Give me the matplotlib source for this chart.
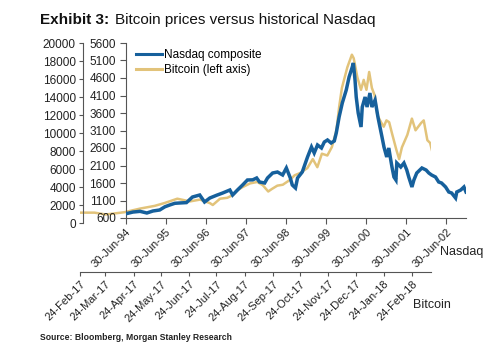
import matplotlib
matplotlib.use("Agg")
import matplotlib.pyplot as plt
import pandas as pd
from matplotlib.font_manager import findfont, FontProperties
from matplotlib.lines import Line2D

# ---------------- data ----------------
btc_dates = ["2017-02-24", "2017-02-27", "2017-03-12", "2017-03-24", "2017-03-29", "2017-04-14",
             "2017-05-01", "2017-05-17", "2017-05-28", "2017-06-11", "2017-06-25", "2017-07-06",
             "2017-07-17", "2017-07-20", "2017-07-28", "2017-08-05", "2017-08-11", "2017-08-17",
             "2017-08-22", "2017-08-30", "2017-09-07", "2017-09-13", "2017-09-19", "2017-09-23",
             "2017-09-29", "2017-10-05", "2017-10-13", "2017-10-18", "2017-10-24", "2017-11-01",
             "2017-11-07", "2017-11-12", "2017-11-17", "2017-11-23", "2017-11-28", "2017-12-03",
             "2017-12-06", "2017-12-09", "2017-12-15", "2017-12-20", "2017-12-22", "2017-12-26",
             "2017-12-30", "2018-01-02", "2018-01-05", "2018-01-08", "2018-01-11", "2018-01-14",
             "2018-01-17", "2018-01-21", "2018-01-24", "2018-01-27", "2018-01-30", "2018-02-02",
             "2018-02-07", "2018-02-10", "2018-02-13", "2018-02-19", "2018-02-24", "2018-02-28",
             "2018-03-06", "2018-03-09", "2018-03-13", "2018-03-16", "2018-03-18"]
btc_values = [1150, 1150, 1150, 950, 1000, 1200,
              1600, 1900, 2220, 2700, 2400, 2600,
              2200, 2000, 2700, 2800, 3100, 3700,
              4000, 4400, 4560, 4200, 3500, 3780,
              4150, 4250, 4800, 5300, 5550, 6100,
              7100, 6200, 7700, 7500, 8440, 10300,
              12900, 15000, 17300, 18700, 18300, 16200,
              14800, 15900, 14800, 16780, 15000, 14200,
              12000, 11200, 10700, 11400, 11200, 10000,
              8100, 7100, 8400, 9800, 11600, 10300,
              11100, 11400, 9200, 8900, 8100]

nas_dates = ["1994-06-30", "1994-09-04", "1994-11-08", "1995-01-09", "1995-03-05", "1995-05-06",
             "1995-06-22", "1995-08-05", "1995-09-21", "1995-11-04", "1996-01-05", "1996-02-29",
             "1996-05-05", "1996-06-18", "1996-08-05", "1996-10-06", "1996-11-30", "1997-02-04",
             "1997-03-01", "1997-04-14", "1997-05-31", "1997-07-14", "1997-08-31", "1997-10-06",
             "1997-11-01", "1997-12-18", "1998-01-13", "1998-03-01", "1998-04-14", "1998-05-31",
             "1998-07-04", "1998-08-09", "1998-08-27", "1998-09-25", "1998-10-14", "1998-11-26",
             "1999-01-13", "1999-02-18", "1999-03-15", "1999-04-14", "1999-05-20", "1999-06-15",
             "1999-07-14", "1999-08-16", "1999-09-14", "1999-10-02", "1999-10-28", "1999-11-26",
             "2000-01-01", "2000-01-27", "2000-02-25", "2000-03-06", "2000-03-21", "2000-04-01",
             "2000-04-19", "2000-05-15", "2000-05-26", "2000-06-21", "2000-07-09", "2000-08-04",
             "2000-08-22", "2000-09-20", "2000-10-16", "2000-10-27", "2000-11-22", "2000-12-10",
             "2001-01-04", "2001-01-23", "2001-02-10", "2001-02-21", "2001-03-11", "2001-03-29",
             "2001-04-06", "2001-05-12", "2001-06-10", "2001-07-06", "2001-07-24", "2001-08-22",
             "2001-09-09", "2001-10-05", "2001-11-21", "2001-12-29", "2002-01-23", "2002-02-17",
             "2002-03-25", "2002-04-23", "2002-05-19", "2002-06-25", "2002-07-24", "2002-08-19",
             "2002-09-24", "2002-10-05", "2002-11-10", "2002-12-09", "2002-12-28"]
nas_values = [720, 770, 790, 743, 800, 829,
              920, 971, 1020, 1029, 1040, 1200,
              1257, 1057, 1171, 1250, 1314, 1400,
              1257, 1400, 1543, 1686, 1690, 1743,
              1629, 1600, 1743, 1886, 1914, 1829,
              2029, 1743, 1543, 1457, 1743, 1914,
              2343, 2629, 2457, 2686, 2600, 2771,
              2829, 2743, 2800, 3029, 3486, 3886,
              4257, 4629, 4914, 5029, 4543, 4057,
              3600, 3200, 3771, 4057, 3771, 4171,
              3771, 3971, 3486, 3314, 2914, 2629,
              2343, 2600, 2257, 2057, 1771, 1686,
              2171, 2057, 2171, 1971, 1771, 1486,
              1686, 1886, 2029, 1971, 1886, 1829,
              1771, 1629, 1600, 1486, 1343, 1314,
              1171, 1343, 1400, 1486, 1343]

btc_yticks = list(range(0, 20001, 2000))
nas_yticks = list(range(600, 5601, 500))
nas_xticks = ["1994-06-30", "1995-06-30", "1996-06-30", "1997-06-30", "1998-06-30",
              "1999-06-30", "2000-06-30", "2001-06-30", "2002-06-30"]
btc_xticks = ["2017-02-24", "2017-03-24", "2017-04-24", "2017-05-24", "2017-06-24", "2017-07-24",
              "2017-08-24", "2017-09-24", "2017-10-24", "2017-11-24", "2017-12-24", "2018-01-24",
              "2018-02-24"]

title_bold = "Exhibit 3:"
title_rest = "Bitcoin prices versus historical Nasdaq"
source_text = "Source: Bloomberg, Morgan Stanley Research"

# ---------------- style ----------------
def pick(*names):
    for n in names:
        try:
            f = findfont(FontProperties(family=n), fallback_to_default=False)
            if f:
                return n
        except Exception:
            pass
    return "DejaVu Sans"

FONT = pick("Liberation Sans Narrow", "Liberation Sans")
plt.rcParams["font.family"] = [FONT, "DejaVu Sans"]

BLUE = "#16609c"
GOLD = "#e2c37a"
TXT = "#222222"

fig = plt.figure(figsize=(5.0, 3.53), dpi=100)
W, H = 500.0, 353.0

def rect(x0, x1, ytop, ybot):
    return [x0 / W, 1 - ybot / H, (x1 - x0) / W, (ybot - ytop) / H]

ax_b = fig.add_axes(rect(80, 431, 43, 223))
ax_n = fig.add_axes(rect(125.7, 466, 43, 218))

for ax in (ax_b, ax_n):
    ax.patch.set_alpha(0)
    for s in ("top", "right"):
        ax.spines[s].set_visible(False)
    for s in ("left", "bottom"):
        ax.spines[s].set_color("#555555")
        ax.spines[s].set_linewidth(0.8)

bd = pd.to_datetime(btc_dates)
nd = pd.to_datetime(nas_dates)

ax_b.plot(bd, btc_values, color=GOLD, lw=1.8, zorder=2, solid_joinstyle="round")
ax_b.set_xlim(pd.Timestamp("2017-02-24"), pd.Timestamp("2018-03-17"))
ax_b.set_ylim(0, 20000)
ax_b.set_yticks(btc_yticks)
ax_b.set_yticklabels([str(v) for v in btc_yticks])
ax_b.spines["left"].set_position(("outward", -2))
ax_b.spines["bottom"].set_position(("outward", 35.3))
ax_b.set_xticks(pd.to_datetime(btc_xticks))
ax_b.set_xticklabels([pd.Timestamp(d).strftime("%d-%b-%y") for d in btc_xticks],
                     rotation=45, ha="right", va="top", rotation_mode="anchor")
ax_b.tick_params(axis="y", direction="out", length=3, width=0.8, pad=2, labelsize=8.5,
                 colors="#555555", labelcolor=TXT)
ax_b.tick_params(axis="x", direction="out", length=3, width=0.8, pad=2, labelsize=8,
                 colors="#555555", labelcolor=TXT)

ax_n.plot(nd, nas_values, color=BLUE, lw=2.5, zorder=3, solid_joinstyle="miter")
ax_n.set_xlim(pd.Timestamp("1994-06-30"), pd.Timestamp("2002-12-28"))
ax_n.set_ylim(600, 5600)
ax_n.set_yticks(nas_yticks)
ax_n.set_yticklabels([str(v) for v in nas_yticks])
ax_n.set_xticks(pd.to_datetime(nas_xticks))
ax_n.set_xticklabels([pd.Timestamp(d).strftime("%d-%b-%y") for d in nas_xticks],
                     rotation=45, ha="right", va="top", rotation_mode="anchor")
ax_n.tick_params(axis="y", direction="out", length=4, width=0.8, pad=3, labelsize=8.5,
                 colors="#555555", labelcolor=TXT)
ax_n.tick_params(axis="x", direction="out", length=4, width=0.8, pad=2, labelsize=8,
                 colors="#555555", labelcolor=TXT)

handles = [Line2D([], [], color=BLUE, lw=2.2), Line2D([], [], color=GOLD, lw=2.2)]
fig.legend(handles, ["Nasdaq composite", "Bitcoin (left axis)"],
           loc="upper left", bbox_to_anchor=(134 / W, 1 - 47 / H), frameon=False,
           fontsize=8.5, handlelength=2.2, handletextpad=0.1, labelspacing=0.25,
           borderaxespad=0, borderpad=0.2)

fig.text(440 / W, 1 - 252 / H, "Nasdaq", fontsize=9, color=TXT, va="center", ha="left")
fig.text(413 / W, 1 - 305 / H, "Bitcoin", fontsize=9, color=TXT, va="center", ha="left")

t1 = fig.text(40 / W, 1 - 20 / H, title_bold, fontsize=11, fontweight="bold", color="#111111",
              va="center", ha="left")
fig.canvas.draw()
bb = t1.get_window_extent()
fig.text((bb.x1 + 6) / W, 1 - 20 / H, title_rest, fontsize=11, color="#111111",
         va="center", ha="left")

fig.text(40 / W, 1 - 337 / H, source_text, fontsize=6.2, fontweight="bold", color="#222222",
         va="center", ha="left")

fig.savefig("out.png", dpi=100)
